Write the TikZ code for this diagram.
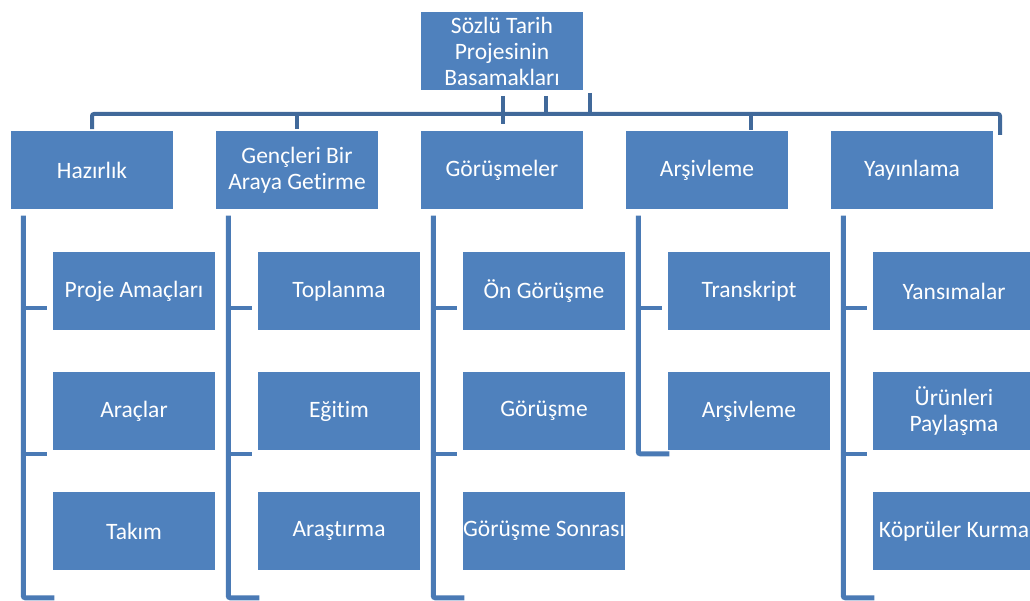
\documentclass[tikz,border=0pt]{standalone}
\usepackage{fontspec}
\setmainfont{Carlito}[Ligatures=NoCommon]
\usetikzlibrary{calc}
\definecolor{boxblue}{HTML}{4F81BD}
\definecolor{busblue}{HTML}{41699A}
\definecolor{barblue}{HTML}{4A7AB5}
\tikzset{
  box/.style={rectangle, fill=boxblue, draw=white, line width=1.5pt,
    minimum width=164pt, minimum height=80pt, inner sep=1pt,
    text=white, align=center, font=\fontsize{23.5}{26}\selectfont},
  bus/.style={draw=busblue, line width=4pt, rounded corners=2pt},
  bar/.style={draw=barblue, line width=5pt, rounded corners=2pt},
  tick/.style={draw=barblue, line width=4pt},
}
\begin{document}
\begin{tikzpicture}[x=1pt,y=-1pt]
\useasboundingbox (0,0) rectangle (1030,601);
\clip (0,0) rectangle (1030,601);
\fill[white] (0,0) rectangle (1030,601);

% free connector ends
\coordinate (bL) at (92,114);
\coordinate (bR) at (1000,114);
\coordinate (bRend) at (1000,135);
\coordinate (s1) at (503,96);
\coordinate (s1b) at (503,124);
\coordinate (s2) at (546,96);
\coordinate (s3) at (590,93);
\coordinate (s4) at (751,130);

% top node
\node[box] (T) at (502,51) {Sözlü Tarih\\Projesinin\\Basamakları};

% level one
\node[box] (H) at (92,170) {Hazırlık};
\node[box] (G) at (297,170) {Gençleri Bir\\Araya Getirme};
\node[box] (R) at (502,170) {Görüşmeler};
\node[box] (A) at (707,170) {Arşivleme};
\node[box] (Y) at (912,170) {Yayınlama};

% bus
\draw[bus] (H.north) -- (bL) -- (bR) -- (bRend);
\draw[bus] (G.north) -- (G.north |- bL);
\draw[bus] (s1) -- (s1b);
\draw[bus] (s2) -- (s2 |- bL);
\draw[bus] (s3) -- (s3 |- bL);
\draw[bus] (s4) -- (s4 |- bL);

% children
\foreach \p/\n/\a/\b/\c in {H/h/Proje Amaçları/Araçlar/Takım,
                           G/g/Toplanma/Eğitim/Araştırma,
                           R/r/Ön Görüşme/Görüşme/Görüşme Sonrası,
                           Y/y/Yansımalar/Ürünleri\\Paylaşma/Köprüler Kurma}{
  \node[box] (\n1) at ($(\p.center)+(42,121)$) {\a};
  \node[box] (\n2) at ($(\p.center)+(42,241)$) {\b};
  \node[box] (\n3) at ($(\p.center)+(42,361)$) {\c};
  \coordinate (\n top) at ($(\p.south west)+(14,5)$);
  \coordinate (\n bot) at ($(\p.south west)+(14,387)$);
  \draw[bar] (\n top) -- (\n bot) -- ($(\n bot)+(31,0)$);
  \draw[tick] ($(\n top)+(0,92)$) -- ($(\n top)+(24,92)$);
  \draw[tick] ($(\n top)+(0,238)$) -- ($(\n top)+(24,238)$);
}
\node[box] (a1) at ($(A.center)+(42,121)$) {Transkript};
\node[box] (a2) at ($(A.center)+(42,241)$) {Arşivleme};
\coordinate (atop) at ($(A.south west)+(14,5)$);
\coordinate (abot) at ($(A.south west)+(14,243)$);
\draw[bar] (atop) -- (abot) -- ($(abot)+(31,0)$);
\draw[tick] ($(atop)+(0,92)$) -- ($(atop)+(24,92)$);
\end{tikzpicture}
\end{document}
